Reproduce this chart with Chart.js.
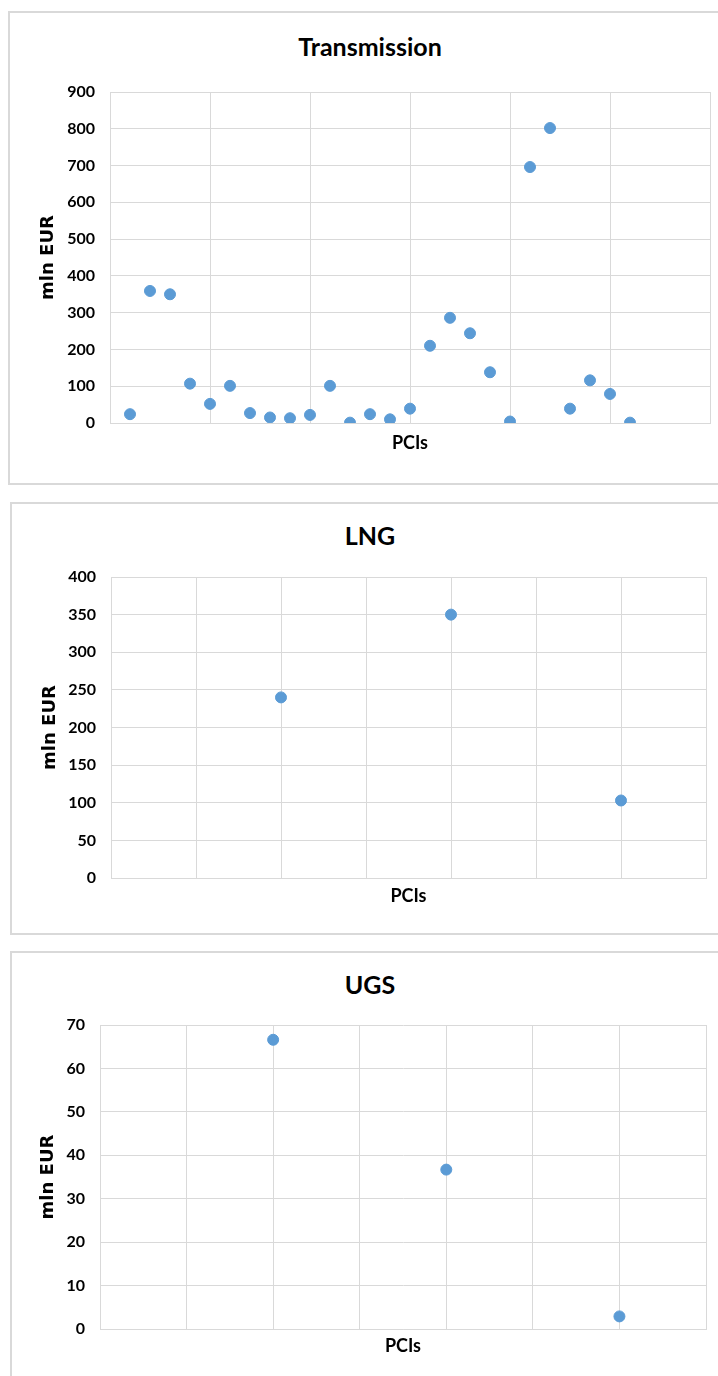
<!DOCTYPE html>
<html>
<head>
<meta charset="utf-8">
<script src="https://cdn.jsdelivr.net/npm/chart.js@4.4.1/dist/chart.umd.min.js"></script>
<style>
  body { margin: 0; width: 718px; height: 1376px; overflow: hidden; background: #fff; position: relative; }
  .frame { position: absolute; border: 2px solid #d9d9d9; width: 740px; box-sizing: border-box; }
  .ttl { position: absolute; left: 0; width: 740px; text-align: center; font: bold 25px Lato; line-height: 30px; color: #000; }
  canvas { position: absolute; left: 0; }
</style>
</head>
<body>
<div class="frame" style="left:8px;top:11px;height:474px"></div>
<div class="frame" style="left:10px;top:502px;height:433px"></div>
<div class="frame" style="left:10px;top:951px;height:460px"></div>

<div class="ttl" style="top:31px">Transmission</div>
<div class="ttl" style="top:520px">LNG</div>
<div class="ttl" style="top:969px">UGS</div>

<canvas id="trans" width="718" height="484" style="top:0"></canvas>
<canvas id="lng" width="718" height="440" style="top:494px"></canvas>
<canvas id="ugs" width="718" height="432" style="top:944px"></canvas>

<script>
// Transmission PCIs (mln EUR)
const transPci = [1, 2, 3, 4, 5, 6, 7, 8, 9, 10, 11, 12, 13, 14, 15, 16, 17, 18, 19, 20, 21, 22, 23, 24, 25, 26];
const transCost = [24, 359, 350, 107, 52, 101, 27, 15, 13, 22, 101, 1, 24, 10, 39, 210, 286, 244, 138, 4, 696, 802, 39, 116, 79, 1];
const transXMax = 30, transXStep = 5;
const transYMax = 900, transYStep = 100;

// LNG PCIs
const lngPci = [1, 2, 3];
const lngCost = [240, 350, 103];
const lngXMax = 3.5, lngXStep = 0.5;
const lngYMax = 400, lngYStep = 50;

// UGS PCIs
const ugsPci = [1, 2, 3];
const ugsCost = [66.6, 36.7, 2.9];
const ugsXMax = 3.5, ugsXStep = 0.5;
const ugsYMax = 70, ugsYStep = 10;

const gridColor = '#d9d9d9';
const dotColor = '#5b9bd5';

function makeChart(id, xs, ys, xMax, xStep, yMax, yStep, box) {
  const pts = xs.map((x, i) => ({ x: x, y: ys[i] }));
  return new Chart(document.getElementById(id), {
    type: 'scatter',
    data: {
      datasets: [{
        data: pts,
        backgroundColor: dotColor,
        borderColor: dotColor,
        pointRadius: 5.5,
        pointHoverRadius: 5.5
      }]
    },
    options: {
      responsive: false,
      animation: false,
      devicePixelRatio: 1,
      layout: { padding: { top: box.padTop, right: box.padRight, left: 0, bottom: 0 } },
      plugins: { legend: { display: false }, tooltip: { enabled: false } },
      scales: {
        x: {
          type: 'linear',
          min: 0,
          max: xMax,
          ticks: { stepSize: xStep, display: false },
          grid: { color: gridColor, drawTicks: false },
          border: { color: gridColor },
          title: {
            display: true,
            text: 'PCIs',
            color: '#000',
            font: { family: 'Lato', weight: 'bold', size: 18, lineHeight: 1.2 },
            padding: { top: 0, bottom: box.xTitlePad }
          },
          afterFit: s => { s.height = box.xHeight; }
        },
        y: {
          min: 0,
          max: yMax,
          ticks: {
            stepSize: yStep,
            color: '#000',
            padding: 15,
            font: { family: 'Lato', weight: 'bold', size: 16 }
          },
          grid: { color: gridColor, drawTicks: false },
          border: { color: gridColor },
          title: {
            display: true,
            text: 'mln EUR',
            color: '#000',
            font: { family: 'DejaVu Sans', weight: 'bold', size: 18, lineHeight: 1.2 },
            padding: { top: box.yTitlePad, bottom: 0 }
          },
          afterFit: s => { s.width = box.yWidth; }
        }
      }
    }
  });
}

makeChart('trans', transPci, transCost, transXMax, transXStep, transYMax, transYStep,
  { padTop: 92, padRight: 8, yWidth: 110, xHeight: 61, xTitlePad: 29.7, yTitlePad: 37.7 });
makeChart('lng', lngPci, lngCost, lngXMax, lngXStep, lngYMax, lngYStep,
  { padTop: 83, padRight: 12, yWidth: 111, xHeight: 56, xTitlePad: 27.2, yTitlePad: 39.2 });
makeChart('ugs', ugsPci, ugsCost, ugsXMax, ugsXStep, ugsYMax, ugsYStep,
  { padTop: 81, padRight: 12, yWidth: 100, xHeight: 47, xTitlePad: 19.2, yTitlePad: 37.7 });
</script>
</body>
</html>
